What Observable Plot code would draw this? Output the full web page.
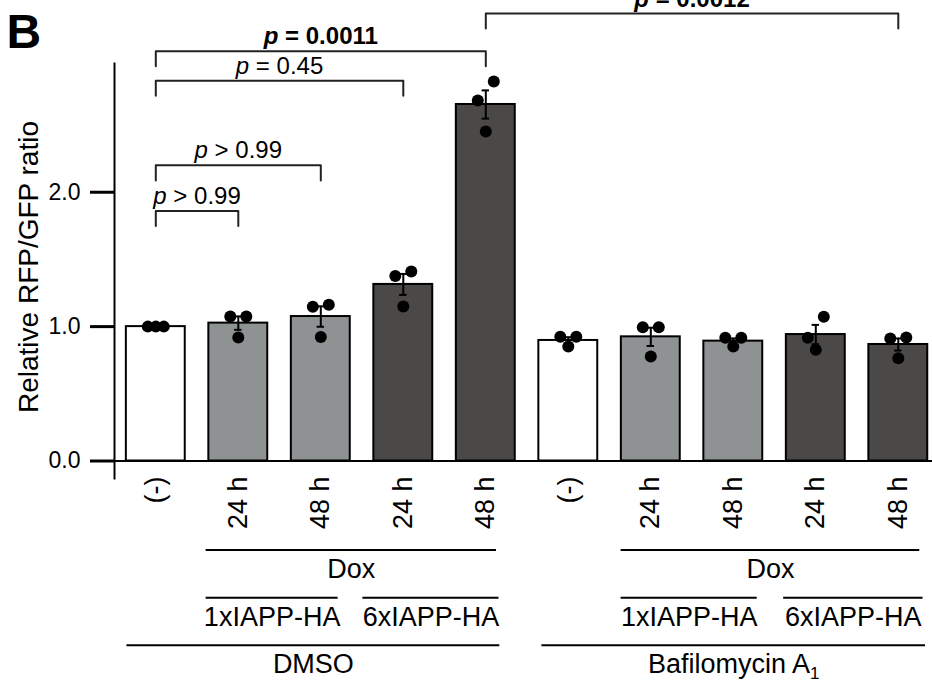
<!DOCTYPE html>
<html>
<head>
<meta charset="utf-8">
<script src="https://cdn.jsdelivr.net/npm/d3@7"></script>
<script src="https://cdn.jsdelivr.net/npm/@observablehq/plot@0.6"></script>
<style>
html, body { margin: 0; padding: 0; background: #fff; }
#chart { width: 932px; height: 683px; overflow: hidden; }
</style>
</head>
<body>
<div id="chart"></div>
<script>
// ---- data ----
const categories = ["(-)", "24 h", "48 h", "24 h", "48 h", "(-)", "24 h", "48 h", "24 h", "48 h"];
const constructs = ["none", "1xIAPP-HA", "1xIAPP-HA", "6xIAPP-HA", "6xIAPP-HA",
                    "none", "1xIAPP-HA", "1xIAPP-HA", "6xIAPP-HA", "6xIAPP-HA"];
const means = [1.0, 1.026, 1.075, 1.314, 2.653, 0.897, 0.924, 0.892, 0.941, 0.867];
const sems  = [0.0, 0.050, 0.076, 0.078, 0.105, 0.024, 0.068, 0.020, 0.072, 0.045];
const repLeft   = [1.0, 1.075, 1.148, 1.376, 2.683, 0.924, 0.996, 0.917, 0.917, 0.912];
const repRight  = [1.0, 1.075, 1.162, 1.411, 2.824, 0.924, 0.996, 0.917, 1.073, 0.919];
const repCenter = [1.0, 0.919, 0.922, 1.150, 2.452, 0.852, 0.777, 0.852, 0.827, 0.765];

const yTicks = [0, 1, 2];
const yLabel = "Relative RFP/GFP ratio";
const panelLabel = "B";

// group annotations below the axis (spans in bar-index units, tier = row)
const groupLabels = ["Dox", "1xIAPP-HA", "6xIAPP-HA", "DMSO", "Dox", "1xIAPP-HA", "6xIAPP-HA", "Bafilomycin A1"];
const groupFrom   = [0.61, 0.61, 2.51, -0.35, 5.64, 5.64, 7.61, 4.68];
const groupTo     = [4.13, 2.21, 4.16, 4.17, 9.26, 7.29, 9.30, 9.33];
const groupTier   = [1, 2, 2, 3, 1, 2, 2, 3];

// significance brackets (bar index from/to, height in y units)
const pLabels = ["p > 0.99", "p > 0.99", "p = 0.45", "p = 0.0011", "p = 0.0012"];
const pFrom   = [0, 0, 0, 0, 4];
const pTo     = [1, 2, 3, 4, 9];
const pHeight = [1.86, 2.20, 2.83, 3.05, 3.33];
const pBold   = [false, false, false, true, true];

// ---- tables ----
const bars = categories.map((c, i) => ({idx: i, label: c, construct: constructs[i], mean: means[i], sem: sems[i]}));
const errs = bars.filter(d => d.sem > 0);
const caps = errs.flatMap(d => [{idx: d.idx, y: d.mean - d.sem}, {idx: d.idx, y: d.mean + d.sem}]);
const dotsL = repLeft.map((v, i) => ({idx: i, value: v}));
const dotsR = repRight.map((v, i) => ({idx: i, value: v}));
const dotsC = repCenter.map((v, i) => ({idx: i, value: v}));
const groups = groupLabels.map((g, i) => ({label: g, from: groupFrom[i], to: groupTo[i], tier: groupTier[i]}));
const brackets = pLabels.map((p, i) => ({id: i, label: p, from: pFrom[i], to: pTo[i], h: pHeight[i], bold: pBold[i]}));

const HALF = 0.357, CAP = 0.045, LEG = 0.112;
const tierY = t => -0.662 - (t - 1) * 0.355;
const bracketPts = brackets.flatMap(b => [
  {id: b.id, x: b.from, y: b.h - LEG}, {id: b.id, x: b.from, y: b.h},
  {id: b.id, x: b.to, y: b.h}, {id: b.id, x: b.to, y: b.h - LEG}
]);

const FONT = "'Liberation Sans', Arial, Helvetica, sans-serif";

const svg = Plot.plot({
  width: 932,
  height: 683,
  marginLeft: 114,
  marginRight: 0,
  marginTop: 63,
  marginBottom: 205,
  style: {fontFamily: FONT, fontSize: "23px", color: "black", background: "white", overflow: "visible"},
  x: {type: "linear", domain: [0, 9], range: [155.3, 897.8], axis: null},
  y: {domain: [0, 2.958], range: [460.5, 63], axis: null},
  color: {type: "ordinal", domain: ["none", "1xIAPP-HA", "6xIAPP-HA"], range: ["#ffffff", "#8e9292", "#4a4948"]},
  marks: [
    // bars
    Plot.rectY(bars, {x1: d => d.idx - HALF, x2: d => d.idx + HALF, y: "mean", fill: "construct", stroke: "black", strokeWidth: 2}),
    // baseline & y axis
    Plot.ruleY([0], {strokeWidth: 2}),
    Plot.frame({anchor: "left", strokeWidth: 2}),
    Plot.axisY({ticks: yTicks, tickFormat: d => d.toFixed(1), tickSize: 24, tickPadding: 10, strokeWidth: 3, fontSize: 23, label: null}),
    Plot.text([yLabel], {frameAnchor: "left", dx: -85, dy: -4, rotate: -90, textAnchor: "middle", lineAnchor: "middle", fontSize: 28}),
    // error bars
    Plot.ruleX(errs, {x: "idx", y1: d => d.mean - d.sem, y2: d => d.mean + d.sem, strokeWidth: 2}),
    Plot.ruleY(caps, {y: "y", x1: d => d.idx - CAP, x2: d => d.idx + CAP, strokeWidth: 2}),
    // replicate dots
    Plot.dot(dotsL, {x: "idx", y: "value", r: 6, fill: "black", dx: -8}),
    Plot.dot(dotsR, {x: "idx", y: "value", r: 6, fill: "black", dx: 8}),
    Plot.dot(dotsC, {x: "idx", y: "value", r: 6, fill: "black"}),
    // x tick labels (rotated)
    Plot.text(bars, {x: "idx", text: "label", frameAnchor: "bottom", dy: -2, rotate: -90, textAnchor: "end", lineAnchor: "middle", fontSize: 27}),
    // group annotations
    Plot.ruleY(groups, {y: d => tierY(d.tier), x1: "from", x2: "to", strokeWidth: 2}),
    Plot.text(groups, {x: d => (d.from + d.to) / 2, y: d => tierY(d.tier), text: "label", dy: 28, lineAnchor: "bottom", fontSize: 27}),
    // significance brackets
    Plot.line(bracketPts, {x: "x", y: "y", z: "id", strokeWidth: 2, stroke: "#222"}),
    Plot.text(brackets.filter(b => !b.bold), {x: d => (d.from + d.to) / 2, y: "h", text: "label", dy: -7, lineAnchor: "bottom", fontSize: 24}),
    Plot.text(brackets.filter(b => b.bold), {x: d => (d.from + d.to) / 2, y: "h", text: "label", dy: -7, lineAnchor: "bottom", fontSize: 24, fontWeight: "bold"}),
    // panel letter
    Plot.text([panelLabel], {frameAnchor: "top-left", dx: -108, dy: -16, textAnchor: "start", lineAnchor: "bottom", fontSize: 48, fontWeight: "bold"})
  ]
});

// italic "p" and subscript "1"
d3.select(svg).selectAll("text").each(function () {
  const t = this.textContent;
  if (/^p [=>]/.test(t) && this.childElementCount === 0) {
    const rest = t.slice(1);
    this.textContent = "";
    const ts = document.createElementNS("http://www.w3.org/2000/svg", "tspan");
    ts.setAttribute("font-style", "italic");
    ts.textContent = "p";
    this.appendChild(ts);
    this.appendChild(document.createTextNode(rest));
  } else if (t === "Bafilomycin A1" && this.childElementCount === 0) {
    this.textContent = "Bafilomycin A";
    const ts = document.createElementNS("http://www.w3.org/2000/svg", "tspan");
    ts.setAttribute("font-size", "17");
    ts.setAttribute("dy", "6");
    ts.textContent = "1";
    this.appendChild(ts);
  }
});

document.getElementById("chart").appendChild(svg);
</script>
</body>
</html>
